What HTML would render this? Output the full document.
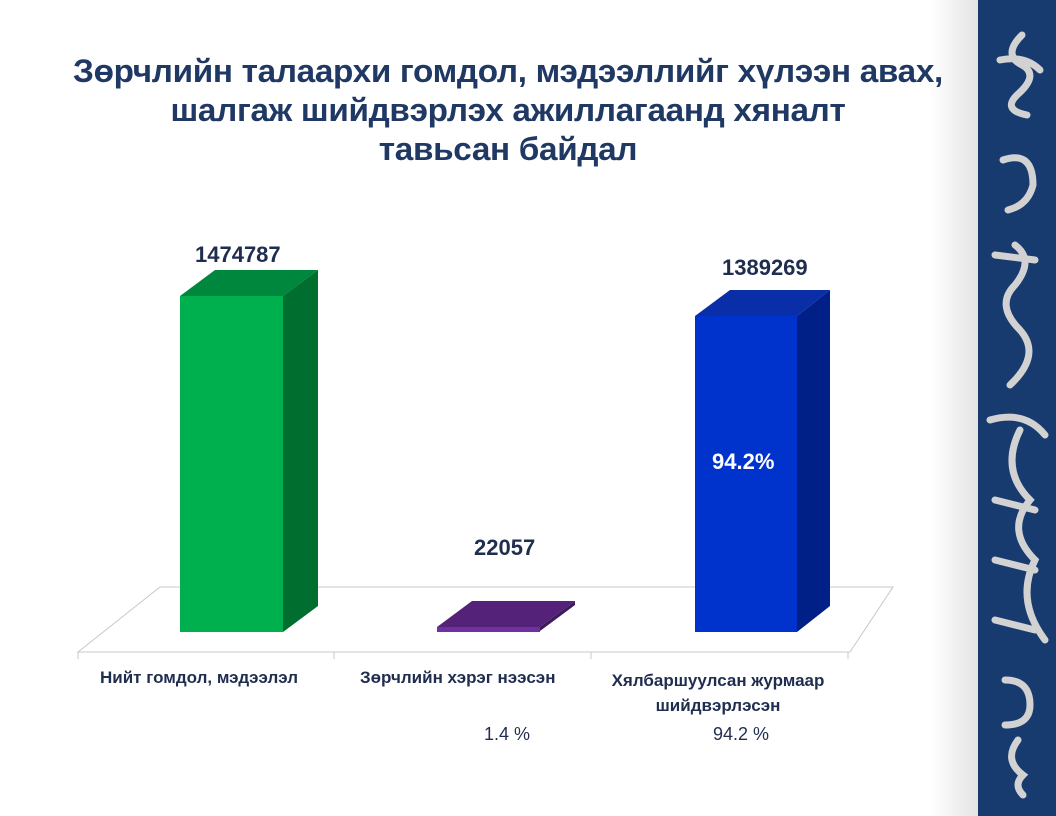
<!DOCTYPE html>
<html><head><meta charset="utf-8"><style>
body{margin:0;width:1056px;height:816px;overflow:hidden;background:#fff;font-family:"Liberation Sans",sans-serif;}
.t{position:absolute;white-space:nowrap;}
</style></head><body>
<div style="position:absolute;left:930px;top:0;width:48px;height:816px;background:linear-gradient(90deg,#fff,#e4e4e4)"></div>
<div style="position:absolute;left:978px;top:0;width:78px;height:816px;background:#173a6f"></div>
<svg width="1056" height="816" style="position:absolute;left:0;top:0">
<g stroke="#d2d2d2" stroke-width="7" fill="none" stroke-linecap="round">
<path d="M1022 35 q-20 20 0 30 q18 10 -5 30 q-15 15 10 20"/>
<path d="M1000 60 q25 -5 40 10"/>
<path d="M1003 160 q30 -10 30 25 q-5 20 -25 25"/>
<path d="M1015 245 q20 15 0 40 q-20 20 5 45 q22 25 -10 55"/>
<path d="M995 255 l40 5"/>
<path d="M990 420 q35 -10 55 15"/>
<path d="M1020 430 q-20 40 10 70 q-25 30 5 60 q-20 40 10 80"/>
<path d="M995 500 l40 10 M995 560 l40 10 M995 620 l40 10"/>
<path d="M1005 680 q25 0 25 25 q0 20 -25 20"/>
<path d="M1018 740 q-15 20 5 35 q-10 10 0 20"/>
</g>
<polygon points="160,587 893,587 850,652 78,652" fill="#fff" stroke="#c8c8c8" stroke-width="1"/>
<g stroke="#c8c8c8"><line x1="78" y1="652" x2="78" y2="659"/><line x1="334" y1="652" x2="334" y2="659"/><line x1="591" y1="652" x2="591" y2="659"/><line x1="848" y1="652" x2="848" y2="659"/></g>
<polygon points="180,296 215,270 318,270 283,296" fill="#00873e"/>
<polygon points="283,296 318,270 318,606 283,632" fill="#006e2e"/>
<rect x="180" y="296" width="103" height="336" fill="#00b04f"/>
<polygon points="437,627 472,601 575,601 540,627" fill="#542379"/>
<polygon points="540,627 575,601 575,605 540,631" fill="#3e1a5c"/>
<rect x="437" y="627" width="103" height="5" fill="#7030a0"/>
<polygon points="695,316 730,290 830,290 797,316" fill="#0a2ea8"/>
<polygon points="797,316 830,290 830,606 797,632" fill="#001f87"/>
<rect x="695" y="316" width="102" height="316" fill="#0033cc"/>
</svg>
<div class="t" style="left:0;width:1016px;top:52px;text-align:center;font-weight:bold;font-size:32px;line-height:39px;color:#1f3864;transform:scaleX(1.04);transform-origin:508px 0;letter-spacing:-0.3px">Зөрчлийн талаархи гомдол, мэдээллийг хүлээн авах,<br>шалгаж шийдвэрлэх ажиллагаанд хяналт<br>тавьсан байдал</div>
<div class="t" style="left:195px;top:242px;font-weight:bold;font-size:22px;color:#1f2d4f">1474787</div>
<div class="t" style="left:474px;top:535px;font-weight:bold;font-size:22px;color:#1f2d4f">22057</div>
<div class="t" style="left:722px;top:255px;font-weight:bold;font-size:22px;color:#1f2d4f">1389269</div>
<div class="t" style="left:712px;top:449px;font-weight:bold;font-size:22px;color:#fff">94.2%</div>
<div class="t" style="left:100px;top:668px;font-weight:bold;font-size:17px;color:#1f2d4f">Нийт гомдол, мэдээлэл</div>
<div class="t" style="left:360px;top:668px;font-weight:bold;font-size:17px;color:#1f2d4f">Зөрчлийн хэрэг нээсэн</div>
<div class="t" style="left:598px;top:668px;width:240px;text-align:center;font-weight:bold;font-size:17px;line-height:25px;color:#1f2d4f">Хялбаршуулсан журмаар<br>шийдвэрлэсэн</div>
<div class="t" style="left:484px;top:724px;font-size:18px;color:#1f2d4f">1.4 %</div>
<div class="t" style="left:713px;top:724px;font-size:18px;color:#1f2d4f">94.2 %</div>
</body></html>
